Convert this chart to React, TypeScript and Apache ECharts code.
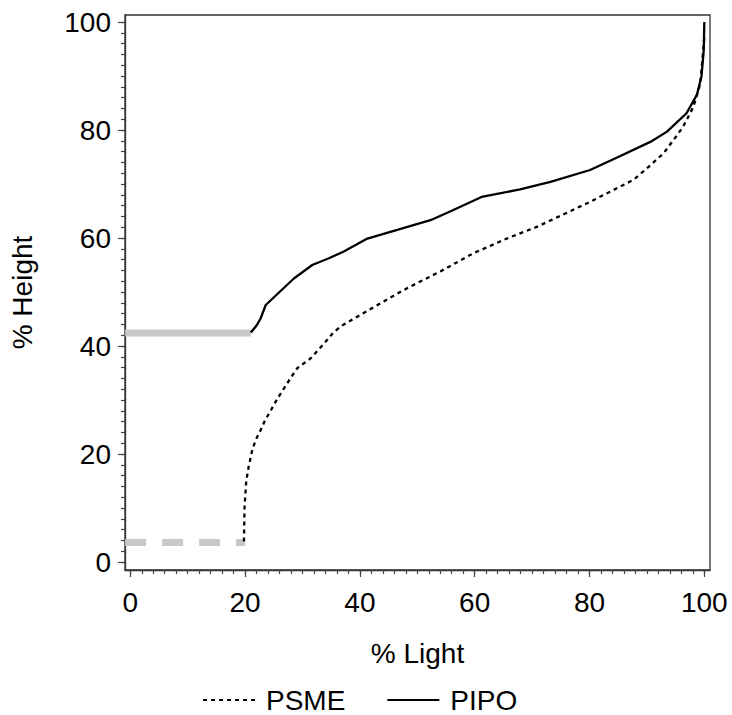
import React, { useEffect, useRef } from "react";
import * as echarts from "echarts";

// PSME (dotted) curve
const psmeLight = [19.8, 19.9, 20.2, 20.6, 21.2, 21.8, 22.7, 23.5, 24.5, 25.6, 26.8, 28, 29.1, 31.4, 33.8, 35.3, 36.6, 42.4, 48.2, 54, 59.8, 65.6, 70.9, 73.5, 80.1, 85.3, 87.7, 90, 92.9, 94.6, 96.3, 98.1, 99.3, 99.8, 100];
const psmeHeight = [3.8, 10, 15, 17.5, 20.5, 22.5, 24.4, 26.3, 28.1, 30.2, 32.2, 34.2, 35.9, 37.7, 40.5, 42.4, 43.6, 47.2, 50.7, 53.8, 57.2, 59.9, 62.1, 63.4, 66.7, 69.5, 70.8, 72.9, 75.7, 78.1, 80.6, 84.3, 88.6, 94.8, 97];

// PIPO (solid) curve
const pipoLight = [21.0, 22.0, 22.7, 23.6, 26, 28.5, 31.7, 34.5, 37.2, 41.3, 46.5, 52.3, 55.9, 61.2, 67.9, 73.2, 80.1, 85, 90.6, 93.5, 96.9, 98.7, 99.5, 99.9, 100];
const pipoHeight = [42.5, 43.8, 45.1, 47.6, 50, 52.5, 55.0, 56.2, 57.5, 59.9, 61.5, 63.3, 65, 67.6, 69.0, 70.4, 72.6, 75, 77.8, 79.7, 83.1, 86.5, 89.9, 94.8, 100];

// grey reference levels
const pipoRefLight = [-0.9, 21];
const pipoRefHeight = [42.4, 42.4];
const psmeRefLight = [-0.9, 20];
const psmeRefHeight = [3.6, 3.6];

const xTicks = [0, 20, 40, 60, 80, 100];
const yTicks = [0, 20, 40, 60, 80, 100];
const minorStep = 2;

const minorOf = (ticks: number[]) => {
  const out: number[] = [];
  for (let v = ticks[0]; v <= ticks[ticks.length - 1] + 1e-9; v += minorStep) out.push(Math.round(v * 100) / 100);
  return out;
};

const zip = (a: number[], b: number[]) => a.map((v, i) => [v, b[i]]);

const FONT = "Liberation Sans, Arial, sans-serif";

export default function App() {
  const ref = useRef<HTMLDivElement>(null);
  useEffect(() => {
    if (!ref.current) return;
    const chart = echarts.init(ref.current, undefined, { renderer: "svg" });
    const X_MIN = -0.92, X_MAX = 100.99, Y_MIN = -1.48, Y_MAX = 101.3;
    const labelStyle = { fontSize: 28, fontFamily: FONT, color: "#000" };
    const major = (ticks: number[], min: number, max: number, extra: any) => ({
      type: "value",
      min,
      max,
      splitLine: { show: false },
      axisLine: { show: true, onZero: false, lineStyle: { color: "#333", width: 1.3 } },
      axisTick: { show: true, inside: false, length: 7, customValues: ticks, lineStyle: { color: "#444", width: 1.2 } },
      axisLabel: { ...labelStyle, customValues: ticks, showMinLabel: true, showMaxLabel: true },
      nameTextStyle: labelStyle,
      nameLocation: "middle",
      ...extra,
    });
    const minor = (ticks: number[], min: number, max: number, extra: any) => ({
      type: "value",
      min,
      max,
      splitLine: { show: false },
      axisLine: { show: false, onZero: false },
      axisTick: { show: true, inside: false, length: 4, customValues: minorOf(ticks), lineStyle: { color: "#444", width: 1.2 } },
      axisLabel: { show: false },
      ...extra,
    });
    chart.setOption({
      animation: false,
      backgroundColor: "#fff",
      grid: { left: 124, right: 22, top: 15, bottom: 145, containLabel: false, show: true, borderColor: "#333", borderWidth: 1.3, backgroundColor: "transparent" },
      xAxis: [
        major(xTicks, X_MIN, X_MAX, { position: "bottom", name: "% Light", nameGap: 69, axisLabel: { ...labelStyle, customValues: xTicks, margin: 18 } }),
        minor(xTicks, X_MIN, X_MAX, { position: "bottom" }),
      ],
      yAxis: [
        major(yTicks, Y_MIN, Y_MAX, { position: "left", name: "% Height", nameGap: 89, axisLabel: { ...labelStyle, customValues: yTicks, margin: 14 } }),
        minor(yTicks, Y_MIN, Y_MAX, { position: "left" }),
      ],
      legend: {
        left: 197,
        top: 681,
        itemWidth: 52,
        itemHeight: 26,
        itemGap: 41,
        itemStyle: { opacity: 0 },
        textStyle: { ...labelStyle, padding: [0, 0, 0, 6] },
        data: ["PSME", "PIPO"],
      },
      series: [
        {
          name: "pipoRef",
          type: "line",
          data: zip(pipoRefLight, pipoRefHeight),
          symbol: "none",
          clip: false,
          lineStyle: { color: "#c8c8c8", width: 7 },
          z: 1,
        },
        {
          name: "psmeRef",
          type: "line",
          data: zip(psmeRefLight, psmeRefHeight),
          symbol: "none",
          clip: false,
          lineStyle: { color: "#c8c8c8", width: 7, type: [21, 16] },
          z: 1,
        },
        {
          name: "PSME",
          type: "line",
          data: zip(psmeLight, psmeHeight),
          symbol: "none",
          clip: false,
          itemStyle: { color: "#000" },
          lineStyle: { color: "#000", width: 2.3, type: [4, 4] },
          z: 3,
        },
        {
          name: "PIPO",
          type: "line",
          data: zip(pipoLight, pipoHeight),
          symbol: "none",
          clip: false,
          itemStyle: { color: "#000" },
          lineStyle: { color: "#000", width: 2.3 },
          z: 3,
        },
      ],
    });
    return () => chart.dispose();
  }, []);
  return <div ref={ref} style={{ position: "absolute", left: 0, top: 0, width: 732, height: 715 }} />;
}
